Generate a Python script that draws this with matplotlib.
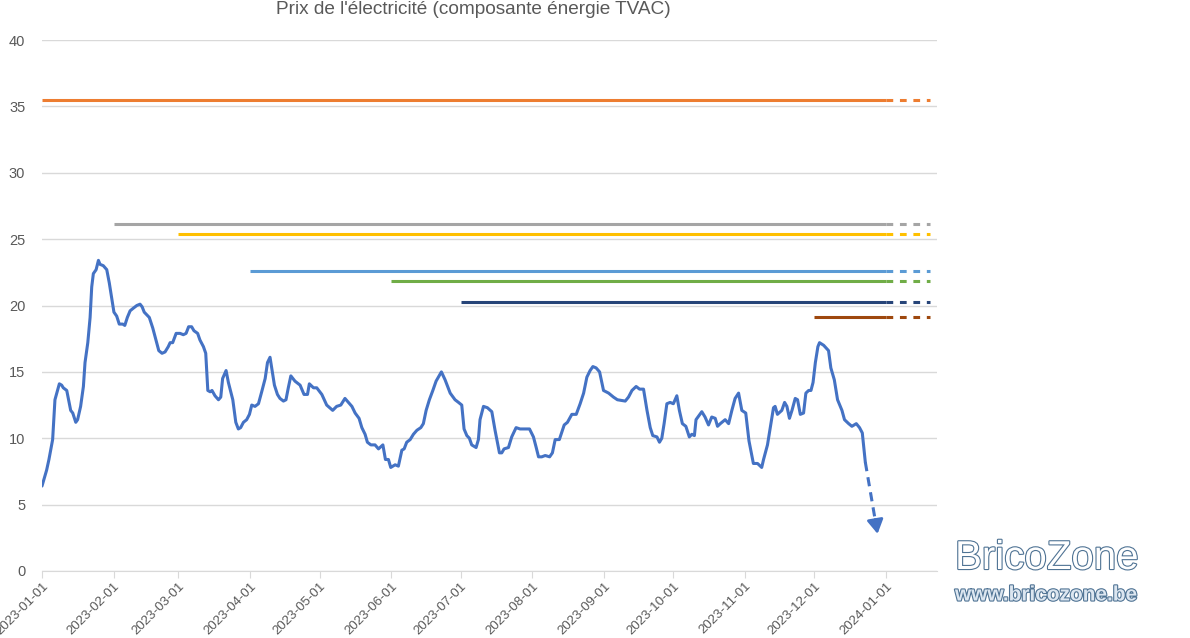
import matplotlib
matplotlib.use('Agg')
import matplotlib.pyplot as plt
import matplotlib.dates as mdates
import matplotlib.patheffects as pe
import numpy as np

plt.rcParams['font.family'] = ['Liberation Sans', 'DejaVu Sans']

# prix journalier (c€/kWh), jours depuis le 2023-01-01
days = [0, 2, 3, 4.6, 5.6, 7.5, 8.5, 9.2, 10.7, 12.4, 13.3, 14.6, 15.4, 16.7, 17.9, 18.6,
        19.8, 20.8, 21.5, 22.2, 23.4, 24.4, 25.1, 26.5, 28, 29.1, 30.1, 31.1, 32.3, 33.4,
        34.9, 35.8, 36.9, 38.1, 39.5, 41, 42.4, 43.3, 44.2, 46.4, 47.9, 49.3, 50.5, 51.9,
        53.2, 54.6, 55.4, 56.5, 58, 59.7, 61.1, 62.3, 63.4, 64.7, 65.7, 67.3, 68.3, 69.8,
        70.8, 71.7, 72.7, 73.5, 74.8, 76.3, 77.3, 78.1, 79.6, 80.6, 82.5, 83.8, 84.9, 85.9,
        87.1, 88.5, 89.7, 90.7, 92.1, 93.6, 95, 96.5, 97.5, 98.6, 100.5, 101.8, 102.9, 104.4,
        105.5, 106.5, 107.6, 109.4, 111.6, 113.3, 114.8, 115.6, 117.4, 118.8, 121, 123.1,
        125.7, 127.4, 129.2, 131, 132.5, 134, 135.4, 137.1, 138.3, 139.7, 140.7, 142.2, 144,
        145.5, 147.4, 148.5, 149.8, 150.8, 152.7, 154.1, 155.6, 156.6, 157.7, 159.2, 160.6,
        162.1, 163.8, 164.9, 166.1, 167.5, 169, 170.4, 172.7, 174.3, 176.5, 178.6, 180.1,
        181.5, 182.5, 183.7, 184.8, 185.8, 187.7, 188.7, 189.4, 190.9, 192.6, 194.5, 195.9,
        197.8, 198.8, 199.8, 201.7, 203.1, 205, 206.7, 208.9, 210.8, 212.5, 213.7, 214.7,
        216.1, 217.6, 219.5, 220.7, 221.9, 223.7, 225.8, 227.2, 229.1, 231, 232.7, 234.2,
        235.6, 237, 238.2, 239.6, 241.1, 242.8, 245, 247.1, 248.8, 252.2, 253.6, 255.1,
        256.9, 258.4, 260.1, 261.6, 263, 264.1, 265.9, 267, 268, 269, 270.2, 271.6, 273,
        274.5, 275.6, 276.9, 278.4, 279.9, 281, 282.1, 282.8, 285.3, 286.7, 288.2, 289.6,
        291.1, 292.1, 293.3, 295.4, 296.9, 298.3, 299.7, 301.2, 302.6, 304.3, 305.7, 307.6,
        309.4, 311.2, 312, 313.7, 314.9, 316.3, 317, 318, 319.9, 321.1, 322.1, 323.2, 324.3,
        325.7, 326.7, 327.9, 329.3, 330.3, 331.5, 332.5, 333.4, 334.4, 335.5, 336.2, 338,
        340.1, 341.1, 342.6, 344, 345.9, 347, 348.8, 350.2, 352.1, 353.5, 354.7, 356]
prices = [6.4, 7.6, 8.4, 9.9, 12.9, 14.1, 14.0, 13.8, 13.6, 12.1, 11.9, 11.2, 11.4, 12.4, 13.9, 15.7,
          17.2, 19.1, 21.4, 22.4, 22.7, 23.4, 23.1, 23.0, 22.7, 21.7, 20.6, 19.5, 19.2, 18.6,
          18.6, 18.5, 19.1, 19.6, 19.8, 20.0, 20.1, 19.9, 19.5, 19.1, 18.3, 17.4, 16.6, 16.4,
          16.5, 16.9, 17.2, 17.2, 17.9, 17.9, 17.8, 17.9, 18.4, 18.4, 18.1, 17.9, 17.4, 16.9,
          16.4, 13.6, 13.5, 13.6, 13.2, 12.9, 13.1, 14.5, 15.1, 14.2, 12.9, 11.2, 10.7, 10.8,
          11.2, 11.4, 11.8, 12.5, 12.4, 12.6, 13.5, 14.5, 15.7, 16.1, 14.0, 13.3, 13.0, 12.8,
          12.9, 13.8, 14.7, 14.3, 14.0, 13.3, 13.3, 14.1, 13.8, 13.8, 13.3, 12.5,
          12.1, 12.4, 12.5, 13.0, 12.7, 12.4, 11.9, 11.5, 10.8, 10.3, 9.7, 9.5, 9.5,
          9.2, 9.5, 8.4, 8.4, 7.8, 8.0, 7.9, 9.1, 9.2, 9.7, 9.9, 10.3,
          10.6, 10.8, 11.1, 12.1, 12.9, 13.6, 14.3, 15.0, 14.4, 13.4, 12.9, 12.7,
          12.5, 10.7, 10.2, 10.0, 9.5, 9.3, 9.9, 11.4, 12.4, 12.3, 12.0, 10.6,
          8.9, 8.9, 9.2, 9.3, 10.1, 10.8, 10.7, 10.7, 10.7, 10.1, 9.3, 8.6,
          8.6, 8.7, 8.6, 8.9, 9.9, 9.9, 11.0, 11.2, 11.8, 11.8, 12.6, 13.4,
          14.6, 15.1, 15.4, 15.3, 15.0, 13.6, 13.4, 13.1, 12.9, 12.8, 13.1, 13.6,
          13.9, 13.7, 13.7, 12.1, 10.8, 10.2, 10.1, 9.7, 10.0, 11.1, 12.6, 12.7, 12.6,
          13.2, 12.1, 11.1, 10.9, 10.1, 10.3, 10.2, 11.4, 12.0, 11.6, 11.0, 11.6,
          11.5, 10.9, 11.1, 11.4, 11.1, 12.1, 13.0, 13.4, 12.1, 11.9, 9.8, 8.1,
          8.1, 7.8, 8.4, 9.5, 10.8, 12.3, 12.4, 11.8, 12.1, 12.7, 12.4, 11.5, 12.1,
          13.0, 12.9, 11.8, 11.9, 13.4, 13.6, 13.6, 14.2, 15.7, 16.9, 17.2, 17.0,
          16.6, 15.3, 14.4, 12.9, 12.1, 11.4, 11.1, 10.9, 11.1, 10.8, 10.4, 8.2]

# tendance (pointillés + flèche)
trend_days = [356, 361.3]
trend_prices = [8.2, 2.8]

# tarifs fixes : début, prix
fixed_starts = ['2023-01-01', '2023-02-01', '2023-03-01', '2023-04-01',
                '2023-06-01', '2023-07-01', '2023-12-01']
fixed_prices = [35.5, 26.15, 25.4, 22.6, 21.85, 20.25, 19.15]
fixed_colors = ['#ED7D31', '#A5A5A5', '#FFC000', '#5B9BD5', '#70AD47', '#264478', '#9E480E']
fixed_end = '2024-01-01'
fixed_dash_end = '2024-01-20'

month_ticks = ['2023-%02d-01' % m for m in range(1, 13)] + ['2024-01-01']

base = mdates.datestr2num('2023-01-01')
x = base + np.array(days)
xt = base + np.array(trend_days)

fig = plt.figure(figsize=(11.9, 6.38), dpi=100)
ax = fig.add_axes([42 / 1190, 1 - 571 / 638, (937 - 42) / 1190, (571 - 40) / 638])

blue = '#4472C4'
ax.plot(x, prices, color=blue, lw=2.2, solid_capstyle='round', solid_joinstyle='round', zorder=3)

# flèche de tendance : pointillés jusqu'à la base de la tête
start = np.array([xt[0], trend_prices[0]])
tip = np.array([xt[-1], trend_prices[-1]])
tail = tip - 0.2 * (tip - start)
ax.plot([start[0], tail[0]], [start[1], tail[1]], color=blue, lw=2.2, dashes=(3, 2), zorder=3)
ax.annotate('', xy=tip, xytext=tail,
            arrowprops=dict(arrowstyle='-|>,head_length=0.6,head_width=0.35', color=blue,
                            lw=2, mutation_scale=14, shrinkA=0, shrinkB=0), zorder=4)

e1 = mdates.datestr2num(fixed_end)
e2 = mdates.datestr2num(fixed_dash_end)
for s, p, c in zip(fixed_starts, fixed_prices, fixed_colors):
    ax.plot([mdates.datestr2num(s), e1], [p, p], color=c, lw=2.2, solid_capstyle='butt', zorder=2)
    ax.plot([e1, e2], [p, p], color=c, lw=2.2, dashes=(2.2, 2.2), zorder=2)

ax.set_xlim(base, base + 387)
ax.set_ylim(0, 40)
ax.set_yticks(np.arange(0, 41, 5))
ax.set_xticks([mdates.datestr2num(d) for d in month_ticks])
ax.set_xticklabels(month_ticks, rotation=45, ha='right', rotation_mode='anchor')
ax.tick_params(axis='x', colors='#D9D9D9', labelcolor='#595959', labelsize=9.6, length=5, pad=1.5)
ax.tick_params(axis='y', length=0, labelcolor='#595959', labelsize=10.5, pad=12)
ax.grid(axis='y', color='#D9D9D9', lw=1)
ax.set_axisbelow(True)
for side in ['left', 'right', 'top']:
    ax.spines[side].set_visible(False)
ax.spines['bottom'].set_color('#D9D9D9')

fig.text(473 / 1190, 1 - 10 / 638, "Prix de l'électricité (composante énergie TVAC)",
         ha='center', va='center', fontsize=13.7, color='#595959')

outline = [pe.withStroke(linewidth=1.6, foreground='#4F7394')]
fig.text(955 / 1190, 1 - 558 / 638, 'BricoZone', ha='left', va='center', fontsize=29,
         color='white', path_effects=outline)
fig.text(955 / 1190, 1 - 595 / 638, 'www.bricozone.be', ha='left', va='center', fontsize=15,
         fontweight='bold', color='#DCE6F0', path_effects=outline)

fig.savefig('out.png', dpi=100)
